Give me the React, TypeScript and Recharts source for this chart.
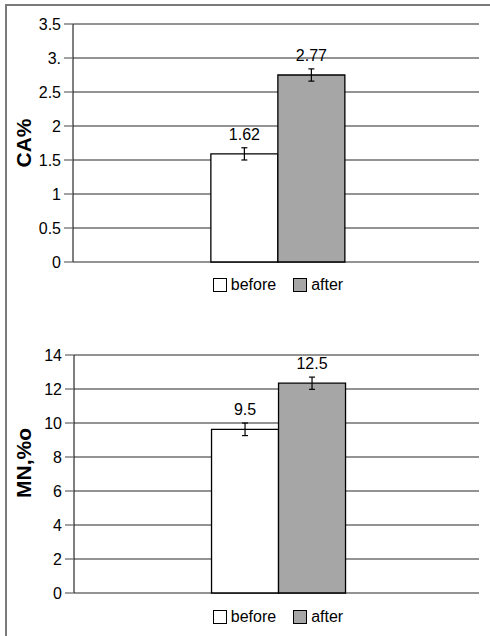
import React from 'react';
import { BarChart, Bar, XAxis, YAxis, CartesianGrid, ErrorBar, LabelList, Legend } from 'recharts';

const categories = ['sample'];
const seriesNames = ['before', 'after'];

const caBefore = [1.59];
const caAfter = [2.75];
const caBeforeErr = [0.09];
const caAfterErr = [0.09];
const caBeforeLabel = ['1.62'];
const caAfterLabel = ['2.77'];
const caTicks = [0, 0.5, 1, 1.5, 2, 2.5, 3, 3.5];
const caTickLabels = ['0', '0.5', '1', '1.5', '2', '2.5', '3.', '3.5'];

const mnBefore = [9.63];
const mnAfter = [12.34];
const mnBeforeErr = [0.37];
const mnAfterErr = [0.36];
const mnBeforeLabel = ['9.5'];
const mnAfterLabel = ['12.5'];
const mnTicks = [0, 2, 4, 6, 8, 10, 12, 14];
const mnTickLabels = ['0', '2', '4', '6', '8', '10', '12', '14'];

const FONT = '"Liberation Sans", Arial, sans-serif';
const GRID = '#6f6f6f';
const AFTER_FILL = '#a6a6a6';

const caData = categories.map((c, i) => ({
  name: c,
  before: caBefore[i],
  after: caAfter[i],
  beforeErr: caBeforeErr[i],
  afterErr: caAfterErr[i],
  beforeLabel: caBeforeLabel[i],
  afterLabel: caAfterLabel[i],
}));

const mnData = categories.map((c, i) => ({
  name: c,
  before: mnBefore[i],
  after: mnAfter[i],
  beforeErr: mnBeforeErr[i],
  afterErr: mnAfterErr[i],
  beforeLabel: mnBeforeLabel[i],
  afterLabel: mnAfterLabel[i],
}));

const LegendContent = () => (
  <div style={{ display: 'flex', justifyContent: 'center', alignItems: 'center', fontFamily: FONT, fontSize: 16, color: '#000', height: 16 }}>
    {seriesNames.map((s, i) => (
      <div key={s} style={{ display: 'flex', alignItems: 'center', marginLeft: i === 0 ? 0 : 17 }}>
        <div style={{ width: 12, height: 12, border: '1px solid #000', background: i === 0 ? '#fff' : AFTER_FILL, marginRight: 4 }} />
        <span style={{ lineHeight: '16px' }}>{s}</span>
      </div>
    ))}
  </div>
);

const makeTitle = (text: string, dy: number) => (props: any) => {
  const vb = props.viewBox || {};
  const cx = 23;
  const cy = (vb.y || 0) + (vb.height || 0) / 2 + dy;
  return (
    <text
      x={cx}
      y={cy}
      transform={`rotate(-90, ${cx}, ${cy})`}
      textAnchor="middle"
      dominantBaseline="central"
      fontFamily={FONT}
      fontWeight="bold"
      fontSize={21}
      fill="#000"
    >
      {text}
    </text>
  );
};

type PanelProps = {
  data: any[];
  ticks: number[];
  tickLabels: string[];
  title: string;
  titleDy: number;
  axisWidth: number;
  marginTop: number;
  marginBottom: number;
  height: number;
  legendTop: number;
};

const Panel = (p: PanelProps) => (
  <BarChart
    width={490}
    height={p.height}
    data={p.data}
    margin={{ top: p.marginTop, right: 11, left: 0, bottom: p.marginBottom }}
    barCategoryGap="33.3%"
    barGap={0}
  >
    <CartesianGrid horizontal vertical={false} stroke={GRID} strokeWidth={1.3} />
    <XAxis dataKey="name" hide padding={{ left: 4, right: 0 }} />
    <YAxis
      width={p.axisWidth}
      domain={[p.ticks[0], p.ticks[p.ticks.length - 1]]}
      ticks={p.ticks}
      interval={0}
      tickFormatter={(v: number, i: number) => p.tickLabels[i] ?? String(v)}
      tick={{ fill: '#000', fontSize: 16, fontFamily: FONT }}
      tickSize={9}
      tickMargin={3}
      tickLine={{ stroke: GRID, strokeWidth: 1.3 }}
      axisLine={{ stroke: '#000', strokeWidth: 1 }}
      label={makeTitle(p.title, p.titleDy)}
    />
    <Legend
      layout="horizontal"
      verticalAlign="middle"
      align="center"
      wrapperStyle={{ top: p.legendTop, left: 77, width: 402 }}
      content={LegendContent}
    />
    <Bar dataKey="before" name="before" fill="#fff" stroke="#000" strokeWidth={1.3} isAnimationActive={false}>
      <ErrorBar dataKey="beforeErr" width={3} stroke="#000" strokeWidth={1.2} direction="y" />
      <LabelList dataKey="beforeLabel" position="top" offset={14} fill="#000" fontSize={16} fontFamily={FONT} />
    </Bar>
    <Bar dataKey="after" name="after" fill={AFTER_FILL} stroke="#000" strokeWidth={1.3} isAnimationActive={false}>
      <ErrorBar dataKey="afterErr" width={3} stroke="#000" strokeWidth={1.2} direction="y" />
      <LabelList dataKey="afterLabel" position="top" offset={14} fill="#000" fontSize={16} fontFamily={FONT} />
    </Bar>
  </BarChart>
);

export default function App() {
  return (
    <div style={{ position: 'absolute', left: 0, top: 0, width: 490, height: 636, background: '#fff', overflow: 'hidden' }}>
      <div style={{ position: 'absolute', left: 5, top: 4, width: 600, height: 700, borderLeft: '2px solid #7a7a7a', borderTop: '2px solid #7a7a7a' }} />
      <div style={{ position: 'absolute', left: 0, top: 0 }}>
        <Panel
          data={caData}
          ticks={caTicks}
          tickLabels={caTickLabels}
          title="CA%"
          titleDy={0}
          axisWidth={73}
          marginTop={24}
          marginBottom={38}
          height={300}
          legendTop={277}
        />
      </div>
      <div style={{ position: 'absolute', left: 0, top: 330 }}>
        <Panel
          data={mnData}
          ticks={mnTicks}
          tickLabels={mnTickLabels}
          title="MN,%o"
          titleDy={-11}
          axisWidth={74}
          marginTop={25}
          marginBottom={43}
          height={306}
          legendTop={279}
        />
      </div>
    </div>
  );
}
